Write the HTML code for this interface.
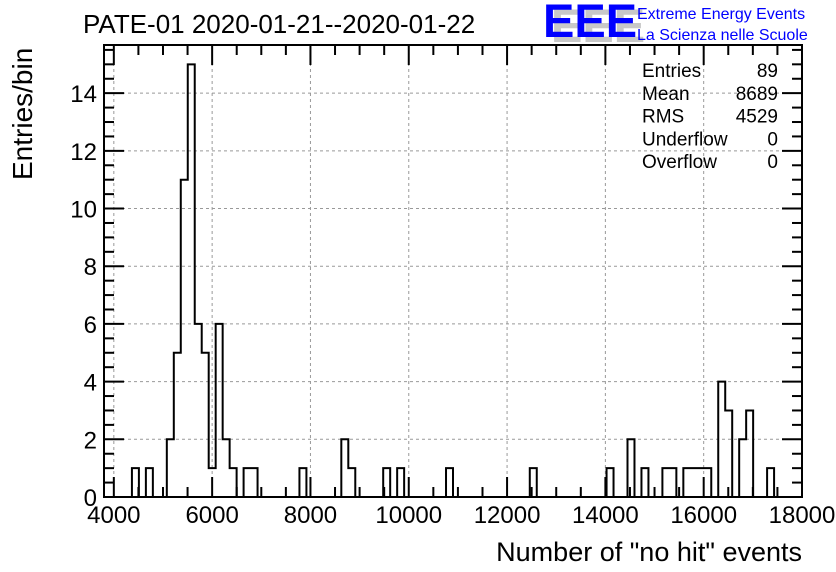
<!DOCTYPE html>
<html><head><meta charset="utf-8">
<style>
html,body{margin:0;padding:0;background:#fff;}
svg{display:block;font-family:"Liberation Sans",Arial,sans-serif;}
</style></head>
<body>
<svg id="chart" width="836" height="572" viewBox="0 0 836 572" xmlns="http://www.w3.org/2000/svg">
  <rect x="0" y="0" width="836" height="572" fill="#fff"/>
  <g id="grid"></g>
  <g id="hist"></g>
  <g id="axes"></g>
  <text x="83" y="33" font-size="26">PATE-01 2020-01-21--2020-01-22</text>
  <g>
    <text x="551" y="42" font-size="47" font-weight="bold" fill="#c8c8c8">EEE</text>
    <text x="543" y="37" font-size="47" font-weight="bold" fill="#0000ff">EEE</text>
    <text x="637" y="19" font-size="16" fill="#0000ff">Extreme Energy Events</text>
    <text x="637" y="40" font-size="16" fill="#0000ff">La Scienza nelle Scuole</text>
  </g>
  <g id="stats" font-size="19"></g>
  <text x="802" y="561" font-size="27" text-anchor="end">Number of "no hit" events</text>
  <text transform="translate(32,180) rotate(-90)" font-size="28">Entries/bin</text>
</svg>
<script>
const binLow = 3800;
const binWidth = 142;
const binIndex = [4,6,9,10,11,12,13,14,15,16,17,18,20,21,28,34,35,40,42,49,61,72,75,77,80,81,83,84,85,86,88,89,91,92,95];
const binCount = [1,1,2,5,11,15,6,5,1,6,2,1,1,1,1,2,1,1,1,1,1,1,2,1,1,1,1,1,1,1,4,3,2,3,1];
const xTicks = [4000,6000,8000,10000,12000,14000,16000,18000];
const yTicks = [0,2,4,6,8,10,12,14];
const statLabels = ["Entries","Mean","RMS","Underflow","Overflow"];
const statValues = ["89","8689","4529","0","0"];

const NS="http://www.w3.org/2000/svg";
const L=104,R=802,T=45,B=497;
const XMIN=3800,XMAX=18000,YMAX=15.67;
const nBins=100;
function X(v){return L+(v-XMIN)/(XMAX-XMIN)*(R-L);}
function Y(v){return B-v/YMAX*(B-T);}
function mk(tag,attrs,parent){const e=document.createElementNS(NS,tag);for(const k in attrs)e.setAttribute(k,attrs[k]);parent.appendChild(e);return e;}

const grid=document.getElementById('grid');
const axes=document.getElementById('axes');
const hist=document.getElementById('hist');
const stats=document.getElementById('stats');

xTicks.forEach(v=>{
  const x=X(v);
  if(v>XMIN&&v<XMAX){
    const g=mk('line',{x1:x,x2:x,y1:T,y2:B,stroke:'#999','stroke-dasharray':'3,3','stroke-width':1},grid);
    
    
  }
  const t=mk('text',{x:x,y:523,'font-size':24,'text-anchor':'middle'},axes);
  t.textContent=v;
  
  
});
for(let v=4000;v<=XMAX;v+=500){
  const x=X(v);const major=(v%2000===0);const len=major?20:10;
  mk('line',{x1:x,x2:x,y1:B,y2:B-len,stroke:'#000','stroke-width':2},axes);
  mk('line',{x1:x,x2:x,y1:T,y2:T+len,stroke:'#000','stroke-width':2},axes);
}
yTicks.forEach(v=>{
  const y=Y(v);
  if(v>0){
    const g=mk('line',{x1:L,x2:R,y1:y,y2:y,stroke:'#999','stroke-dasharray':'3,3','stroke-width':1},grid);
    
    
  }
  const t=mk('text',{x:97,y:y+9,'font-size':24,'text-anchor':'end'},axes);
  t.textContent=v;
  
  
});
for(let v=0;v<=YMAX;v+=0.5){
  const y=Y(v);const major=(v%2===0);const len=major?20:10;
  mk('line',{x1:L,x2:L+len,y1:y,y2:y,stroke:'#000','stroke-width':2},axes);
  mk('line',{x1:R,x2:R-len,y1:y,y2:y,stroke:'#000','stroke-width':2},axes);
}
mk('rect',{x:L,y:T,width:R-L,height:B-T,fill:'none',stroke:'#000','stroke-width':2},axes);

const counts=new Array(nBins).fill(0);
binIndex.forEach((b,i)=>{counts[b]=binCount[i];});
let d='M'+X(binLow)+','+Y(0);
for(let i=0;i<nBins;i++){
  const x0=X(binLow+i*binWidth),x1=X(binLow+(i+1)*binWidth);
  d+=' L'+x0+','+Y(counts[i])+' L'+x1+','+Y(counts[i]);
}
d+=' L'+X(binLow+nBins*binWidth)+','+Y(0);
const p=mk('path',{d:d,fill:'none',stroke:'#000','stroke-width':2},hist);



statLabels.forEach((s,i)=>{
  const y=77+i*22.8;
  const a=mk('text',{x:642,y:y},stats);a.textContent=s;
  
  
  const b=mk('text',{x:778,y:y,'text-anchor':'end'},stats);b.textContent=statValues[i];
  
  
});
</script>
</body></html>
